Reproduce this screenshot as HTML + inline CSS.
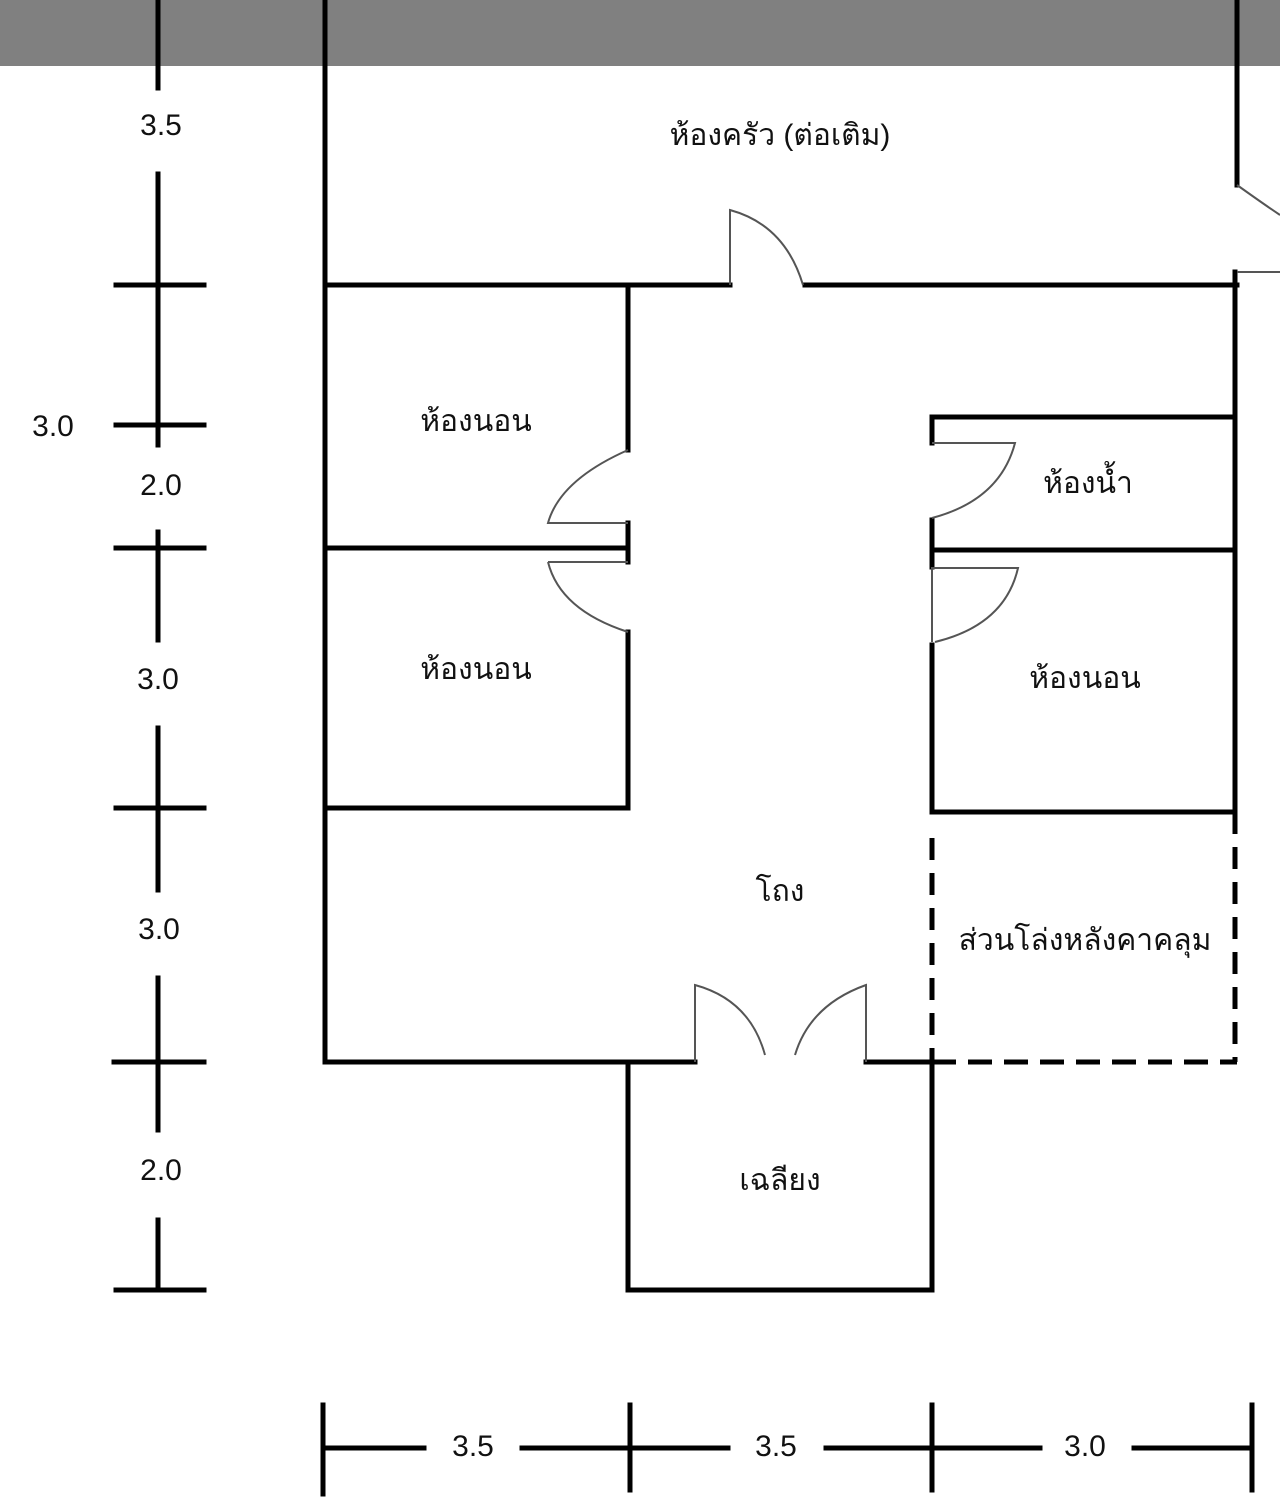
<!DOCTYPE html>
<html><head><meta charset="utf-8"><style>
html,body{margin:0;padding:0;background:#fff;}
svg{display:block;}
text{font-family:"Liberation Sans","DejaVu Sans","Noto Sans CJK SC",sans-serif;font-size:30px;fill:#111;text-anchor:middle;dominant-baseline:middle;}
</style></head><body>
<svg width="1280" height="1498" viewBox="0 0 1280 1498" xmlns="http://www.w3.org/2000/svg">
<rect x="0" y="0" width="1280" height="66" fill="#808080"/>
<g stroke="#000" stroke-width="5" fill="none" stroke-linecap="square">
<!-- left dimension -->
<line x1="158" y1="0" x2="158" y2="88"/>
<line x1="158" y1="174" x2="158" y2="445"/>
<line x1="158" y1="532" x2="158" y2="640"/>
<line x1="158" y1="728" x2="158" y2="890"/>
<line x1="158" y1="978" x2="158" y2="1130"/>
<line x1="158" y1="1220" x2="158" y2="1290"/>
<line x1="116" y1="285" x2="204" y2="285"/>
<line x1="116" y1="425" x2="204" y2="425"/>
<line x1="116" y1="548" x2="204" y2="548"/>
<line x1="116" y1="808" x2="204" y2="808"/>
<line x1="114" y1="1062" x2="204" y2="1062"/>
<line x1="116" y1="1290" x2="204" y2="1290"/>
<!-- bottom dimension -->
<line x1="323" y1="1405" x2="323" y2="1494"/>
<line x1="630" y1="1405" x2="630" y2="1490"/>
<line x1="932" y1="1405" x2="932" y2="1490"/>
<line x1="1252" y1="1405" x2="1252" y2="1490"/>
<line x1="323" y1="1448" x2="424" y2="1448"/>
<line x1="522" y1="1448" x2="728" y2="1448"/>
<line x1="826" y1="1448" x2="1040" y2="1448"/>
<line x1="1134" y1="1448" x2="1252" y2="1448"/>
<!-- walls -->
<line x1="325" y1="0" x2="325" y2="1062"/>
<line x1="325" y1="285" x2="730" y2="285"/>
<line x1="805" y1="285" x2="1237" y2="285"/>
<line x1="1237" y1="0" x2="1237" y2="185"/>
<line x1="1235" y1="272" x2="1235" y2="812"/>
<line x1="628" y1="285" x2="628" y2="450"/>
<line x1="628" y1="523" x2="628" y2="562"/>
<line x1="628" y1="632" x2="628" y2="808"/>
<line x1="325" y1="548" x2="628" y2="548"/>
<line x1="325" y1="808" x2="628" y2="808"/>
<line x1="932" y1="417" x2="932" y2="443"/>
<line x1="932" y1="520" x2="932" y2="567"/>
<line x1="932" y1="645" x2="932" y2="812"/>
<line x1="932" y1="417" x2="1235" y2="417"/>
<line x1="932" y1="550" x2="1235" y2="550"/>
<line x1="932" y1="812" x2="1235" y2="812"/>
<line x1="325" y1="1062" x2="695" y2="1062"/>
<line x1="866" y1="1062" x2="932" y2="1062"/>
<line x1="628" y1="1062" x2="628" y2="1290"/>
<line x1="628" y1="1290" x2="932" y2="1290"/>
<line x1="932" y1="1062" x2="932" y2="1290"/>
</g>
<g stroke="#000" stroke-width="5" fill="none" stroke-dasharray="22,13">
<line x1="932" y1="838" x2="932" y2="1060"/>
<line x1="1235" y1="812" x2="1235" y2="1062"/>
<line x1="932" y1="1062" x2="1237" y2="1062" stroke-dasharray="24,12"/>
</g>
<!-- doors -->
<g stroke="#555" stroke-width="2" fill="none">
<path d="M730 285 V210 Q785 225 803 285"/>
<path d="M628 450 Q560 480 548 523 H628"/>
<path d="M548 562 H628 M548 562 Q560 610 628 632"/>
<path d="M932 443 H1015 Q1000 500 932 518"/>
<path d="M932 567 V642 M932 568 H1018 Q1005 625 935 642"/>
<path d="M695 1062 V985 Q750 1000 765 1055"/>
<path d="M866 1062 V985 Q810 1005 795 1055"/>
<path d="M1237 185 Q1265 205 1280 215 M1237 272 H1280"/>
</g>
<text x="161" y="127">3.5</text>
<text x="53" y="428">3.0</text>
<text x="161" y="487">2.0</text>
<text x="158" y="681">3.0</text>
<text x="159" y="931">3.0</text>
<text x="161" y="1172">2.0</text>
<text x="473" y="1448">3.5</text>
<text x="776" y="1448">3.5</text>
<text x="1085" y="1448">3.0</text>
<text x="780" y="137">ห้องครัว (ต่อเติม)</text>
<text x="476" y="423">ห้องนอน</text>
<text x="476" y="671">ห้องนอน</text>
<text x="1088" y="485">ห้องน้ำ</text>
<text x="1085" y="680">ห้องนอน</text>
<text x="780" y="893">โถง</text>
<text x="1085" y="942">ส่วนโล่งหลังคาคลุม</text>
<text x="780" y="1182">เฉลียง</text>
</svg>
</body></html>
